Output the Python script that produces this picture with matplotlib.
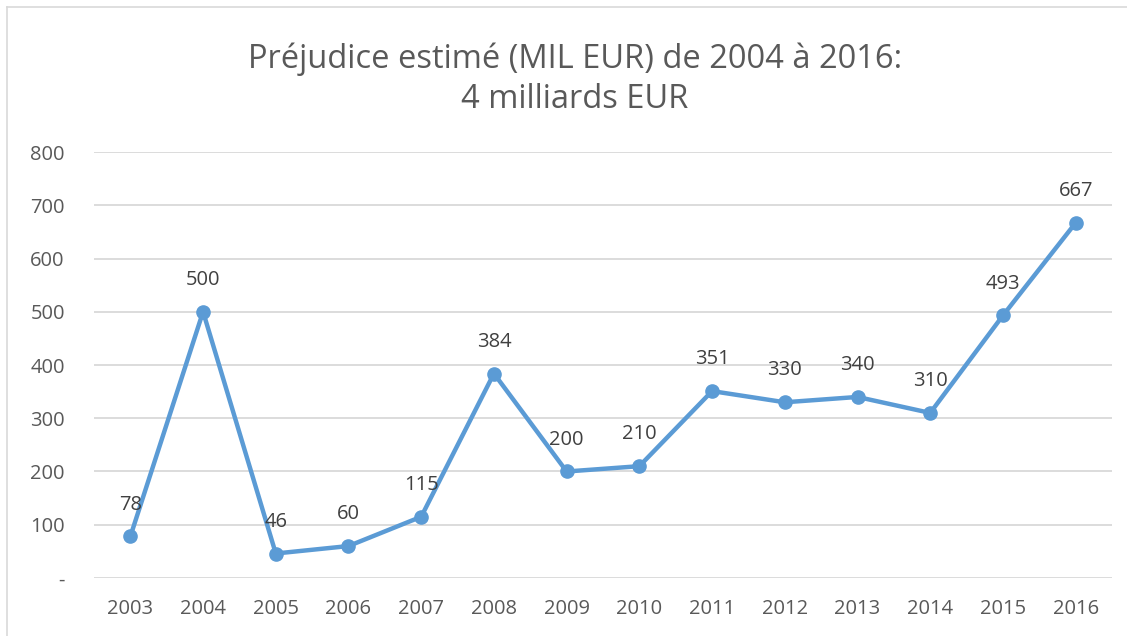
import matplotlib.pyplot as plt
from matplotlib.lines import Line2D

years = ['2003', '2004', '2005', '2006', '2007', '2008', '2009',
         '2010', '2011', '2012', '2013', '2014', '2015', '2016']
values = [78, 500, 46, 60, 115, 384, 200, 210, 351, 330, 340, 310, 493, 667]
yticks = [0, 100, 200, 300, 400, 500, 600, 700, 800]
ytick_labels = ['-', '100', '200', '300', '400', '500', '600', '700', '800']

plt.rcParams['font.family'] = ['Open Sans', 'DejaVu Sans']
text_color = '#595959'
line_color = '#5B9BD5'

fig = plt.figure(figsize=(11.27, 6.36), dpi=100)
ax = fig.add_axes([0.0834, 0.0912, 0.9033, 0.6698])

x = list(range(len(years)))
ax.plot(x, values, color=line_color, linewidth=3.2, marker='o',
        markersize=9.5, zorder=3)

for xi, v in zip(x, values):
    ax.annotate(str(v), (xi, v), xytext=(0, 23), textcoords='offset points',
                ha='center', va='center', fontsize=14.5, color='#404040')

ax.set_xlim(-0.5, len(years) - 0.5)
ax.set_ylim(0, 800)
ax.set_xticks(x)
ax.set_xticklabels(years)
ax.set_yticks(yticks)
ax.set_yticklabels(ytick_labels)
ax.tick_params(axis='both', length=0, labelsize=14.5, labelcolor=text_color)
ax.tick_params(axis='x', pad=15)
ax.tick_params(axis='y', pad=21)
ax.grid(axis='y', color='#D9D9D9', linewidth=1.3)
ax.set_axisbelow(True)
for s in ax.spines.values():
    s.set_visible(False)

fig.text(0.510, 0.875, 'Préjudice estimé (MIL EUR) de 2004 à 2016:\n4 milliards EUR',
         ha='center', va='center', fontsize=23.5, color=text_color, linespacing=1.3)

# chart frame (only top and left edges visible)
fig.add_artist(Line2D([7 / 1127, 1], [1 - 7 / 636, 1 - 7 / 636],
                      transform=fig.transFigure, color='#D9D9D9', linewidth=1.2))
fig.add_artist(Line2D([7 / 1127, 7 / 1127], [0, 1 - 7 / 636],
                      transform=fig.transFigure, color='#D9D9D9', linewidth=1.2))

fig.savefig('out.png', dpi=100)
